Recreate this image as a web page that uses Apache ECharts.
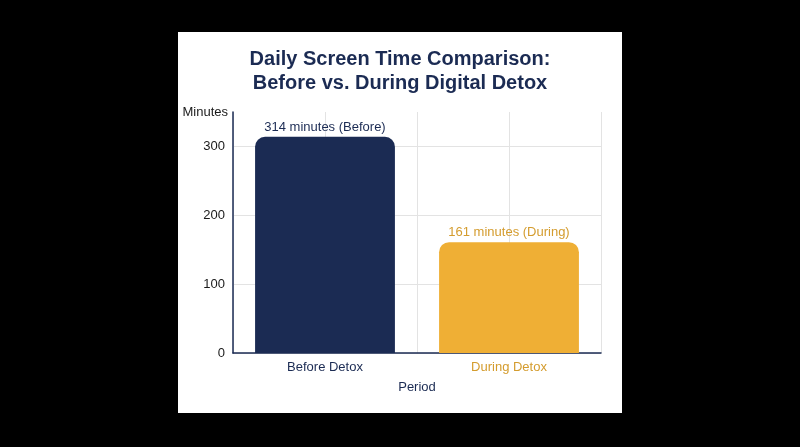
<!DOCTYPE html>
<html>
<head>
<meta charset="utf-8">
<script src="https://cdn.jsdelivr.net/npm/echarts@6/dist/echarts.min.js"></script>
<style>
  html, body { margin: 0; padding: 0; background: #000; width: 800px; height: 447px; overflow: hidden; }
  #main { position: absolute; left: 178px; top: 32px; width: 444px; height: 381px; background: #fff; }
</style>
</head>
<body>
<div id="main"></div>
<script>
// chart data
var periods = ['Before Detox', 'During Detox']
var minutes = [314, 161]
var labelTags = ['Before', 'During']
var barColors = ['#1b2b53', '#efaf35']
var labelColors = ['#1b2b53', '#d49c2e']

var chart = echarts.init(document.getElementById('main'))

chart.setOption({
  animation: false,
  title: {
    text: 'Daily Screen Time Comparison:\nBefore vs. During Digital Detox',
    left: 'center',
    top: 15,
    padding: 0,
    textStyle: {
      fontFamily: 'Liberation Sans',
      fontSize: 20,
      fontWeight: 'bold',
      lineHeight: 24,
      color: '#1b2b53'
    }
  },
  grid: {
    left: 55,
    right: 21,
    top: 80,
    bottom: 60,
    containLabel: false
  },
  xAxis: [
    {
      type: 'category',
      data: periods,
      name: 'Period',
      nameLocation: 'middle',
      nameGap: 28,
      nameTextStyle: { fontFamily: 'Liberation Sans', fontSize: 13, color: '#1b2b53' },
      axisLine: { lineStyle: { color: '#1b2b53', width: 1.5 } },
      axisTick: { show: false },
      splitLine: { show: false },
      axisLabel: {
        margin: 8,
        fontFamily: 'Liberation Sans',
        fontSize: 13,
        color: function (value, index) {
          return labelColors[periods.indexOf(value)]
        }
      }
    },
    {
      // helper axis for the vertical grid lines
      type: 'value',
      min: 0,
      max: 2,
      interval: 0.5,
      position: 'bottom',
      axisLine: { show: false },
      axisTick: { show: false },
      axisLabel: { show: false },
      splitLine: { show: true, lineStyle: { color: '#e3e3e3' } }
    }
  ],
  yAxis: {
    type: 'value',
    min: 0,
    max: 350,
    interval: 100,
    name: 'Minutes',
    nameLocation: 'end',
    nameGap: 0,
    nameTextStyle: {
      fontFamily: 'Liberation Sans',
      fontSize: 13,
      color: '#1a1a1a',
      align: 'right',
      verticalAlign: 'middle',
      padding: [0, 5, 0, 0]
    },
    axisLine: { show: true, lineStyle: { color: '#1b2b53', width: 1.5 } },
    axisTick: { show: false },
    axisLabel: {
      margin: 8,
      fontFamily: 'Liberation Sans',
      fontSize: 13,
      color: '#1a1a1a',
      showMaxLabel: false
    },
    splitLine: { show: true, showMaxLine: false, lineStyle: { color: '#e3e3e3' } }
  },
  series: [
    {
      type: 'bar',
      xAxisIndex: 0,
      barWidth: '76%',
      data: minutes.map(function (v, i) {
        return {
          value: v,
          itemStyle: { color: barColors[i], borderRadius: [10, 10, 0, 0] },
          label: { color: labelColors[i] }
        }
      }),
      label: {
        show: true,
        position: 'top',
        distance: 3,
        fontFamily: 'Liberation Sans',
        fontSize: 13,
        formatter: function (p) {
          return p.value + ' minutes (' + labelTags[p.dataIndex] + ')'
        }
      }
    }
  ]
})
</script>
</body>
</html>
